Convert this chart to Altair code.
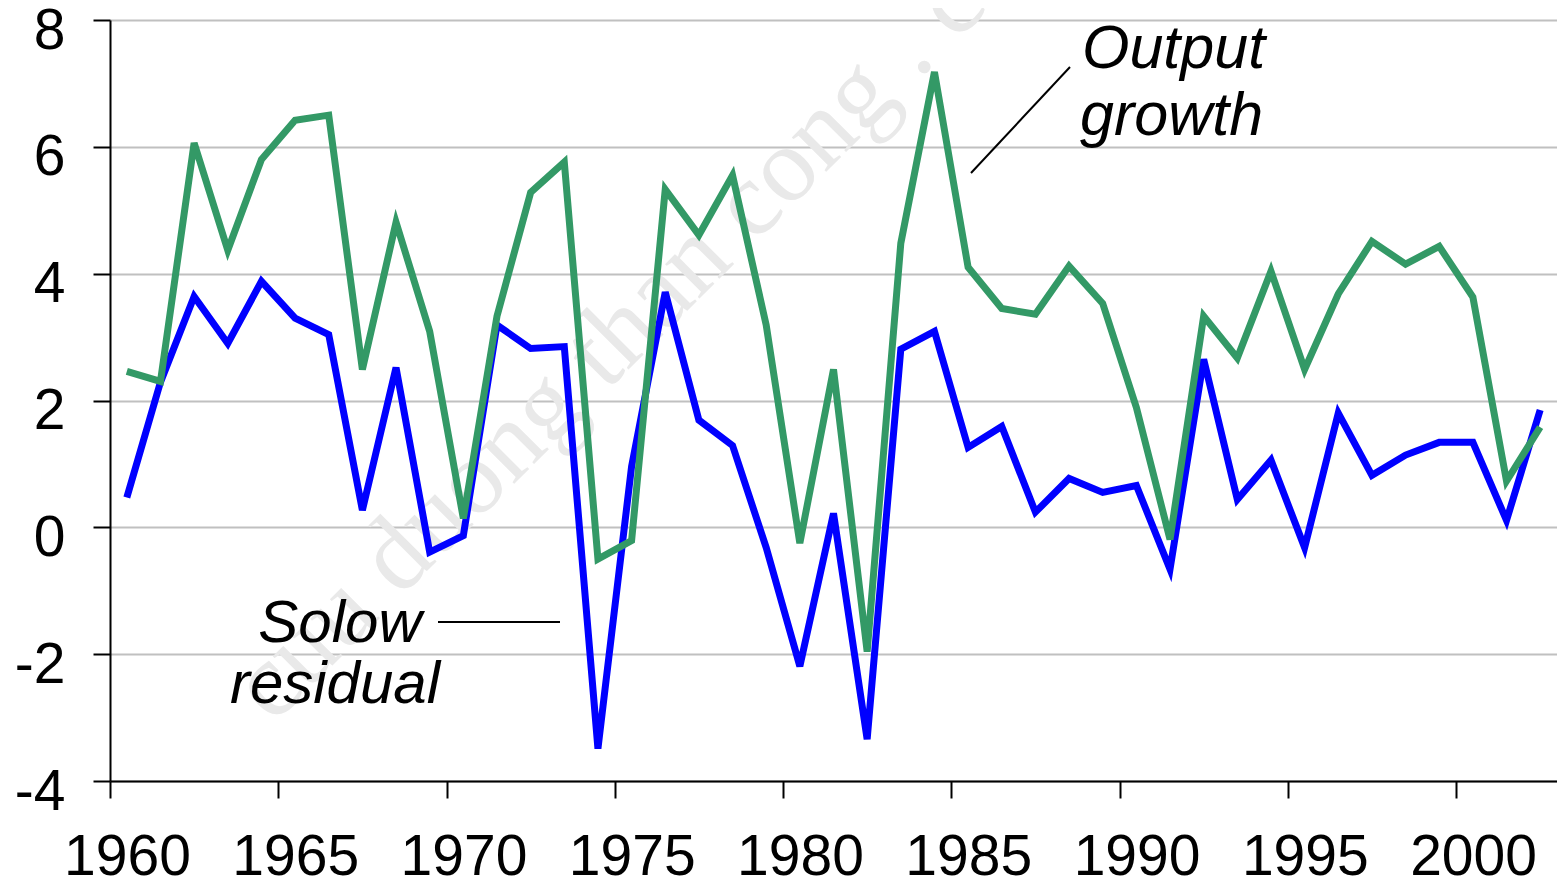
import altair as alt
import pandas as pd

# ---- data ----
years = list(range(1960, 2003))
output_growth = [2.46, 2.30, 6.06, 4.37, 5.80, 6.42, 6.50, 2.49, 4.81, 3.09,
                 0.14, 3.33, 5.28, 5.76, -0.50, -0.21, 5.33, 4.61, 5.55, 3.19,
                 -0.25, 2.49, -1.96, 4.48, 7.18, 4.10, 3.45, 3.36, 4.12, 3.53,
                 1.89, -0.19, 3.33, 2.67, 4.04, 2.49, 3.68, 4.51, 4.15, 4.43,
                 3.63, 0.73, 1.58]
solow_residual = [0.47, 2.29, 3.64, 2.90, 3.88, 3.30, 3.04, 0.27, 2.52, -0.39,
                  -0.13, 3.19, 2.82, 2.85, -3.49, 0.96, 3.71, 1.69, 1.29, -0.32,
                  -2.19, 0.22, -3.34, 2.81, 3.09, 1.26, 1.59, 0.24, 0.77, 0.55,
                  0.66, -0.66, 2.65, 0.44, 1.06, -0.32, 1.80, 0.82, 1.14, 1.34,
                  1.34, 0.11, 1.85]
x_ticks = [1960, 1965, 1970, 1975, 1980, 1985, 1990, 1995, 2000]
y_ticks = [-4, -2, 0, 2, 4, 6, 8]
watermark_text = "cuu duong than cong . com"

df = pd.DataFrame({"year": years, "output": output_growth, "solow": solow_residual})

W, H = 1447, 761
FONT = "Liberation Sans"

x_enc = alt.X("xpos:Q",
              scale=alt.Scale(domain=[1960, 2003], nice=False, zero=False),
              axis=alt.Axis(values=x_ticks, format="d", title=None, grid=False,
                            labelOffset=17, labelPadding=76, labelFontSize=57,
                            labelBaseline="alphabetic",
                            labelFont=FONT, labelColor="black", labelFlush=False,
                            tickSize=17, tickWidth=2, tickColor="black",
                            domainColor="black", domainWidth=2))

def y_enc(field):
    return alt.Y(f"{field}:Q",
                 scale=alt.Scale(domain=[-4, 8], nice=False, zero=False),
                 axis=alt.Axis(values=y_ticks, title=None, grid=True,
                               gridColor="#c0c0c0", gridWidth=2,
                               labelExpr="'' + datum.value",
                               labelBaseline="alphabetic", labelOffset=28,
                               labelPadding=28, labelFontSize=57, labelFont=FONT,
                               labelColor="black", labelFlush=False,
                               tickSize=17, tickWidth=2, tickColor="black",
                               domainColor="black", domainWidth=2))

base = alt.Chart(df).transform_calculate(xpos="datum.year + 0.5")

solow_line = base.mark_line(color="#0000ff", strokeWidth=7).encode(x=x_enc, y=y_enc("solow"))
output_line = base.mark_line(color="#339966", strokeWidth=7).encode(x=x_enc, y=y_enc("output"))

one = pd.DataFrame({"k": [0]})

watermark = alt.Chart(one).mark_text(
    font="Liberation Serif", fontSize=106, color="#e9e9e9", angle=315,
    align="left", baseline="alphabetic"
).encode(x=alt.value(163), y=alt.value(705), text=alt.value(watermark_text))

def label(txt, x, y, align, size):
    return alt.Chart(one).mark_text(
        font=FONT, fontSize=size, fontStyle="italic", color="black",
        align=align, baseline="alphabetic"
    ).encode(x=alt.value(x), y=alt.value(y), text=alt.value(txt))

solow_lbl1 = label("Solow", 230, 622, "center", 60)
solow_lbl2 = label("residual", 225, 683, "center", 60)
out_lbl1 = label("Output", 972, 48, "left", 61)
out_lbl2 = label("growth", 970, 115, "left", 61)

solow_rule = alt.Chart(one).mark_rule(color="black", strokeWidth=2).encode(
    x=alt.value(328), x2=alt.value(450), y=alt.value(602), y2=alt.value(602))
out_rule = alt.Chart(one).mark_rule(color="black", strokeWidth=2).encode(
    x=alt.value(861), x2=alt.value(960), y=alt.value(153), y2=alt.value(47))

chart = alt.layer(
    watermark, solow_line, output_line,
    solow_lbl1, solow_lbl2, out_lbl1, out_lbl2, solow_rule, out_rule
).resolve_scale(y="shared").properties(
    width=W, height=H,
    autosize=alt.AutoSizeParams(type="none"),
    padding={"left": 102, "top": 12, "right": 0, "bottom": 105},
    background="white",
).configure_view(strokeWidth=0)

chart.save("out.html", embed_options={"renderer": "svg", "actions": False})
